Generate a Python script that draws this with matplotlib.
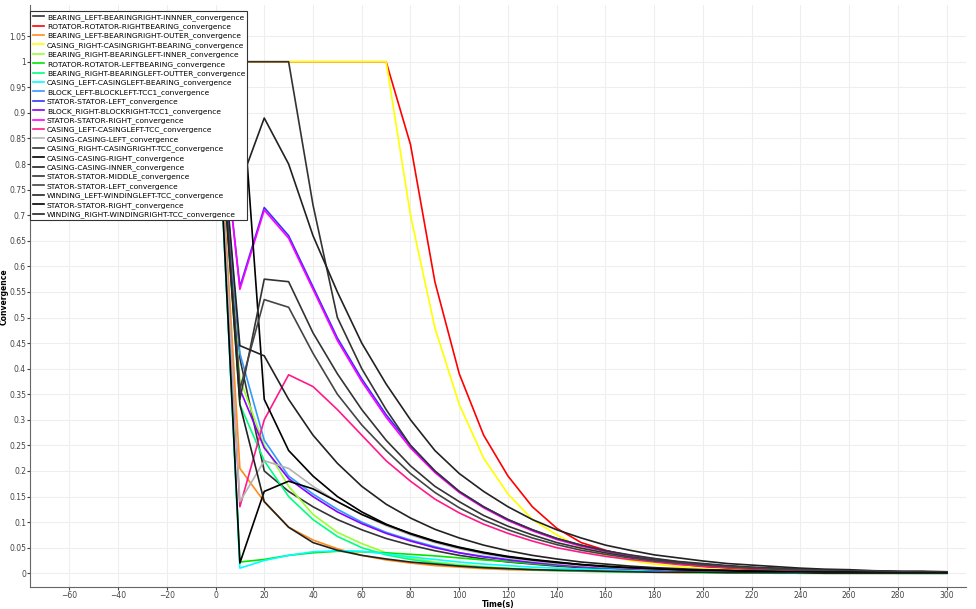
import matplotlib
matplotlib.use("Agg")
import matplotlib.pyplot as plt

time = list(range(0, 310, 10))

names = [
 "BEARING_LEFT-BEARINGRIGHT-INNNER_convergence",
 "ROTATOR-ROTATOR-RIGHTBEARING_convergence",
 "BEARING_LEFT-BEARINGRIGHT-OUTER_convergence",
 "CASING_RIGHT-CASINGRIGHT-BEARING_convergence",
 "BEARING_RIGHT-BEARINGLEFT-INNER_convergence",
 "ROTATOR-ROTATOR-LEFTBEARING_convergence",
 "BEARING_RIGHT-BEARINGLEFT-OUTTER_convergence",
 "CASING_LEFT-CASINGLEFT-BEARING_convergence",
 "BLOCK_LEFT-BLOCKLEFT-TCC1_convergence",
 "STATOR-STATOR-LEFT_convergence",
 "BLOCK_RIGHT-BLOCKRIGHT-TCC1_convergence",
 "STATOR-STATOR-RIGHT_convergence",
 "CASING_LEFT-CASINGLEFT-TCC_convergence",
 "CASING-CASING-LEFT_convergence",
 "CASING_RIGHT-CASINGRIGHT-TCC_convergence",
 "CASING-CASING-RIGHT_convergence",
 "CASING-CASING-INNER_convergence",
 "STATOR-STATOR-MIDDLE_convergence",
 "STATOR-STATOR-LEFT_convergence",
 "WINDING_LEFT-WINDINGLEFT-TCC_convergence",
 "STATOR-STATOR-RIGHT_convergence",
 "WINDING_RIGHT-WINDINGRIGHT-TCC_convergence",
]
colors = ["#333333", "#ff0000", "#ff8c1a", "#ffff00", "#99ff33", "#00e600", "#00ff80",
          "#00ffff", "#3399ff", "#3333ff", "#8800ff", "#ff00ff", "#ff1a8c", "#b3b3b3",
          "#333333", "#000000", "#222222", "#333333", "#444444", "#222222", "#000000", "#222222"]

values = [
 [1,0.42,0.20,0.16,0.13,0.105,0.085,0.068,0.055,0.044,0.035,0.028,0.022,0.018,0.014,0.011,0.009,0.007,0.006,0.005,0.004,0.003,0.003,0.002,0.002,0.002,0.001,0.001,0.001,0.001,0.001],
 [1,1,1,1,1,1,1,1,0.838,0.57,0.39,0.27,0.19,0.13,0.088,0.06,0.045,0.033,0.024,0.018,0.013,0.01,0.007,0.005,0.004,0.003,0.002,0.002,0.001,0.001,0.001],
 [1,0.205,0.14,0.09,0.065,0.048,0.035,0.026,0.02,0.015,0.012,0.009,0.007,0.006,0.005,0.004,0.003,0.002,0.002,0.001,0.001,0.001,0.001,0.001,0,0,0,0,0,0,0],
 [1,1,1,1,1,1,1,1,0.70,0.48,0.33,0.225,0.155,0.105,0.075,0.05,0.035,0.025,0.018,0.013,0.009,0.007,0.005,0.004,0.003,0.002,0.002,0.001,0.001,0.001,0.001],
 [1,0.38,0.25,0.17,0.115,0.08,0.058,0.04,0.03,0.022,0.017,0.013,0.01,0.008,0.006,0.005,0.004,0.003,0.002,0.002,0.001,0.001,0.001,0.001,0,0,0,0,0,0,0],
 [1,0.022,0.027,0.035,0.04,0.043,0.042,0.04,0.037,0.034,0.03,0.026,0.023,0.019,0.016,0.013,0.011,0.009,0.007,0.006,0.005,0.004,0.003,0.003,0.002,0.002,0.001,0.001,0.001,0.001,0.001],
 [1,0.33,0.22,0.15,0.105,0.072,0.05,0.036,0.027,0.02,0.015,0.012,0.009,0.007,0.005,0.004,0.003,0.003,0.002,0.002,0.001,0.001,0.001,0,0,0,0,0,0,0,0],
 [1,0.01,0.025,0.035,0.042,0.044,0.043,0.038,0.032,0.027,0.022,0.018,0.015,0.012,0.01,0.008,0.007,0.005,0.004,0.004,0.003,0.002,0.002,0.002,0.001,0.001,0.001,0.001,0,0,0],
 [1,0.43,0.26,0.19,0.155,0.125,0.10,0.08,0.065,0.052,0.04,0.033,0.027,0.021,0.017,0.014,0.011,0.009,0.007,0.006,0.005,0.004,0.003,0.002,0.002,0.002,0.001,0.001,0.001,0.001,0.001],
 [1,0.56,0.715,0.66,0.56,0.46,0.38,0.31,0.25,0.20,0.16,0.13,0.105,0.085,0.068,0.055,0.044,0.035,0.028,0.022,0.018,0.014,0.011,0.009,0.007,0.006,0.005,0.004,0.003,0.002,0.002],
 [1,0.36,0.245,0.185,0.15,0.12,0.097,0.078,0.063,0.05,0.04,0.032,0.026,0.021,0.017,0.013,0.011,0.009,0.007,0.005,0.004,0.003,0.003,0.002,0.002,0.001,0.001,0.001,0.001,0.001,0.001],
 [1,0.555,0.71,0.655,0.555,0.455,0.375,0.305,0.245,0.197,0.158,0.128,0.103,0.083,0.066,0.053,0.043,0.034,0.027,0.022,0.017,0.014,0.011,0.009,0.007,0.005,0.004,0.003,0.003,0.002,0.002],
 [1,0.13,0.30,0.388,0.365,0.32,0.27,0.22,0.18,0.145,0.118,0.096,0.078,0.063,0.05,0.041,0.033,0.027,0.022,0.017,0.014,0.011,0.009,0.007,0.006,0.005,0.004,0.003,0.002,0.002,0.002],
 [1,0.14,0.22,0.205,0.17,0.14,0.115,0.093,0.075,0.06,0.048,0.038,0.03,0.024,0.019,0.015,0.012,0.01,0.008,0.006,0.005,0.004,0.003,0.003,0.002,0.002,0.001,0.001,0.001,0.001,0.001],
 [1,1,1,1,0.72,0.50,0.40,0.32,0.25,0.20,0.16,0.13,0.105,0.085,0.068,0.055,0.044,0.036,0.029,0.023,0.019,0.015,0.012,0.01,0.008,0.006,0.005,0.004,0.003,0.003,0.002],
 [1,1,0.34,0.24,0.19,0.15,0.12,0.096,0.077,0.062,0.05,0.04,0.032,0.026,0.021,0.017,0.013,0.011,0.009,0.007,0.006,0.005,0.004,0.003,0.002,0.002,0.002,0.001,0.001,0.001,0.001],
 [1,0.76,0.89,0.80,0.66,0.55,0.45,0.37,0.30,0.24,0.195,0.16,0.13,0.105,0.085,0.069,0.055,0.045,0.036,0.03,0.024,0.019,0.016,0.013,0.01,0.008,0.007,0.005,0.004,0.004,0.003],
 [1,0.34,0.575,0.57,0.47,0.39,0.32,0.26,0.21,0.17,0.14,0.113,0.092,0.075,0.06,0.049,0.04,0.032,0.026,0.021,0.017,0.014,0.011,0.009,0.007,0.006,0.005,0.004,0.003,0.003,0.002],
 [1,0.36,0.535,0.52,0.43,0.35,0.29,0.24,0.195,0.158,0.128,0.104,0.085,0.069,0.056,0.045,0.037,0.03,0.024,0.02,0.016,0.013,0.01,0.008,0.007,0.005,0.004,0.004,0.003,0.002,0.002],
 [1,0.445,0.425,0.34,0.27,0.215,0.17,0.135,0.108,0.086,0.069,0.055,0.044,0.035,0.028,0.022,0.018,0.014,0.011,0.009,0.007,0.006,0.005,0.004,0.003,0.002,0.002,0.002,0.001,0.001,0.001],
 [1,0.02,0.16,0.18,0.165,0.14,0.115,0.095,0.078,0.063,0.051,0.041,0.033,0.027,0.022,0.017,0.014,0.011,0.009,0.007,0.006,0.005,0.004,0.003,0.002,0.002,0.002,0.001,0.001,0.001,0.001],
 [1,0.33,0.14,0.09,0.06,0.045,0.035,0.028,0.022,0.018,0.014,0.011,0.009,0.007,0.006,0.005,0.004,0.003,0.002,0.002,0.002,0.001,0.001,0.001,0.001,0,0,0,0,0,0],
]

fig = plt.figure(figsize=(9.76, 6.09), dpi=100)
ax = fig.add_axes([0.031, 0.036, 0.959, 0.955])
for n, c, v in zip(names, colors, values):
    ax.plot(time, v, color=c, lw=1.2, label=n)
ax.set_xlim(-76, 308)
ax.set_ylim(-0.027, 1.11)
ax.set_xticks(range(-60, 301, 20))
ax.set_yticks([i * 0.05 for i in range(22)])
ax.set_yticklabels(["0"] + [("%.2f" % (i * 0.05)).rstrip("0").rstrip(".") if i % 2 == 0 else "%.2f" % (i * 0.05) for i in range(1, 22)])
ax.tick_params(labelsize=5.5, colors="#444444", length=2, pad=1)
ax.grid(color="#eeeeee", lw=0.8)
for s in ["top", "right"]:
    ax.spines[s].set_visible(False)
ax.spines["left"].set_color("#666666")
ax.spines["bottom"].set_color("#666666")
ax.set_xlabel("Time(s)", fontsize=5.5, fontweight="bold", labelpad=0)
ax.set_ylabel("Convergence", fontsize=5.5, fontweight="bold", labelpad=0)
leg = ax.legend(loc="upper left", fontsize=5.4, frameon=True, fancybox=False, framealpha=1,
                edgecolor="#333333", handlelength=1.5, labelspacing=0.32,
                bbox_to_anchor=(0.0, 0.99), borderaxespad=0.0, handletextpad=0.4, borderpad=0.3)
leg.get_frame().set_linewidth(0.8)
fig.savefig("out.png", dpi=100)
